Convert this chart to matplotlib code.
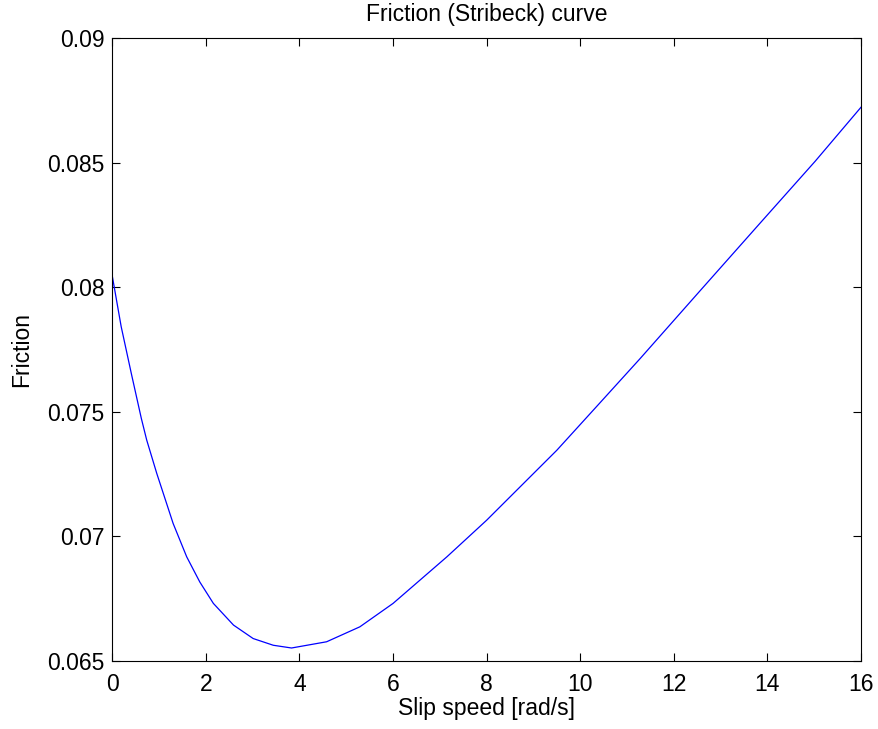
import matplotlib
matplotlib.use("Agg")
import matplotlib.pyplot as plt

slip_speed = [0.0, 0.19, 0.41, 0.62, 0.735, 0.95, 1.30, 1.59, 1.87, 2.16,
              2.59, 3.01, 3.44, 3.83, 4.58, 5.29, 6.00, 7.15, 8.00, 9.50,
              10.42, 11.28, 12.56, 13.84, 15.02, 16.0]
friction = [0.08044, 0.07841, 0.07650, 0.07473, 0.07386, 0.07252, 0.07051,
            0.06917, 0.06816, 0.06730, 0.06643, 0.06589, 0.06562, 0.06551,
            0.06576, 0.06636, 0.06730, 0.06917, 0.07064, 0.07345, 0.07535,
            0.07713, 0.07985, 0.08256, 0.08505, 0.08722]
x_ticks = [0, 2, 4, 6, 8, 10, 12, 14, 16]
y_ticks = [0.065, 0.07, 0.075, 0.08, 0.085, 0.09]
y_tick_labels = ["0.065", "0.07", "0.075", "0.08", "0.085", "0.09"]

plt.rcParams['font.family'] = ['Liberation Sans', 'DejaVu Sans']

fig = plt.figure(figsize=(8.79, 7.29), dpi=100)
ax = fig.add_axes([112.3 / 879, 1 - 660.7 / 729, (861 - 112.3) / 879, (660.7 - 38) / 729])
ax.plot(slip_speed, friction, color=(0, 0, 1), linewidth=0.9)
ax.set_xlim(0, 16)
ax.set_ylim(0.065, 0.09)
ax.set_xticks(x_ticks)
ax.set_yticks(y_ticks)
ax.set_yticklabels(y_tick_labels)
ax.tick_params(direction='in', length=6, width=0.8, top=True, right=True,
               labelsize=16.5)
ax.tick_params(axis='x', pad=8.5)
ax.tick_params(axis='y', pad=5.5)
for s in ax.spines.values():
    s.set_linewidth(0.8)
ax.set_xlabel("Slip speed [rad/s]", fontsize=16.5, labelpad=1)
ax.set_ylabel("Friction", fontsize=16.5, labelpad=10)
ax.set_title("Friction (Stribeck) curve", fontsize=16.5, pad=12)
fig.savefig("out.png", dpi=100)
